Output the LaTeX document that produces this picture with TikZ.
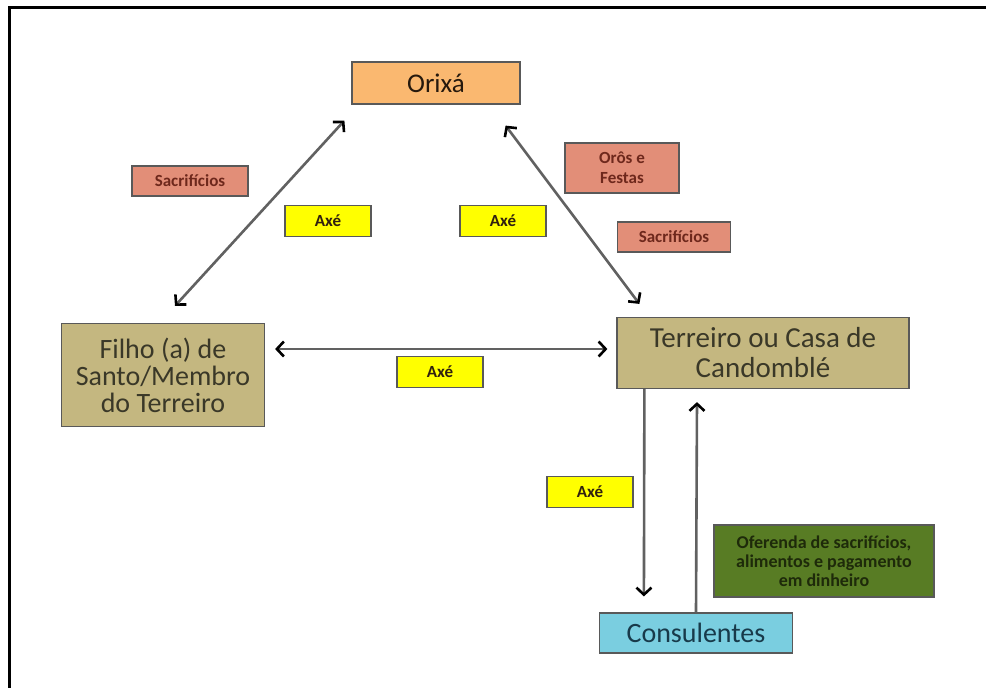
\documentclass[tikz,border=0pt]{standalone}
\usepackage{fontspec}
\setmainfont{Carlito}
\usetikzlibrary{arrows.meta}

\definecolor{orixafill}{RGB}{250,184,112}
\definecolor{sacrfill}{RGB}{226,142,120}
\definecolor{sacrtext}{RGB}{110,40,28}
\definecolor{axefill}{RGB}{255,255,0}
\definecolor{tanfill}{RGB}{196,183,128}
\definecolor{tantext}{RGB}{58,56,40}
\definecolor{greenfill}{RGB}{88,124,36}
\definecolor{greentext}{RGB}{30,42,10}
\definecolor{bluefill}{RGB}{122,206,224}
\definecolor{bluetext}{RGB}{24,58,74}

\begin{document}
\begin{tikzpicture}[x=1pt,y=-1pt,
      mybox/.style={
         draw=black!65,
         line width=1.2pt,
         inner sep=0pt,
         align=center},
      orixabox/.style={mybox, fill=orixafill, text=black!80!brown, font=\fontsize{27}{30}\selectfont},
      sacrbox/.style={mybox, fill=sacrfill, text=sacrtext, font=\bfseries\fontsize{17}{20}\selectfont},
      axebox/.style={mybox, fill=axefill, text=black!75!brown, minimum width=86pt, minimum height=31pt, font=\bfseries\fontsize{17}{20}\selectfont},
      mainbox/.style={mybox, fill=tanfill, text=tantext},
      myarrow/.style={>={Straight Barb[length=7pt,width=15pt,color=black]}, draw=black!62, line width=2.6pt}
      ]
      \useasboundingbox (0,0) rectangle (986,688);
      % frame
      \draw[line width=3pt] (986,7) -- (9,7) -- (9,688);

      \node[orixabox, minimum width=168pt, minimum height=42pt] (orixa) at (436,83) {Orixá};
      \node[sacrbox, minimum width=116pt, minimum height=30pt] (sacr1) at (190,181) {Sacrifícios};
      \node[axebox] (axe1) at (328,221) {Axé};
      \node[axebox] (axe2) at (503,221) {Axé};
      \node[sacrbox, minimum width=114pt, minimum height=50pt] (oros) at (622,168) {Orôs e\\Festas};
      \node[sacrbox, minimum width=113pt, minimum height=30pt] (sacr2) at (674,237) {Sacrifícios};

      \node[mainbox, minimum width=203pt, minimum height=103pt, font=\fontsize{28}{27}\selectfont] (filho) at (163,375)
            {Filho (a) de\\Santo/Membro\\do Terreiro};
      \node[mainbox, minimum width=292pt, minimum height=71pt, font=\fontsize{29}{30}\selectfont] (terreiro) at (763,353)
            {Terreiro ou Casa de\\Candomblé};
      \node[axebox] (axe3) at (440,372) {Axé};
      \node[axebox] (axe4) at (590,492) {Axé};

      \node[mybox, fill=greenfill, text=greentext, minimum width=220pt, minimum height=72pt,
            font=\bfseries\fontsize{18}{19}\selectfont] (oferenda) at (824,561)
            {Oferenda de sacrifícios,\\alimentos e pagamento\\em dinheiro};
      \node[mybox, fill=bluefill, text=bluetext, minimum width=193pt, minimum height=40pt,
            font=\fontsize{28}{30}\selectfont] (consul) at (696,633) {Consulentes};

      % arrows
      \draw[myarrow,<->] ([xshift=-7pt,yshift=-16pt]orixa.south west) -- ([xshift=12pt,yshift=17pt]filho.north);
      \draw[myarrow,<->] ([xshift=-15pt,yshift=-21pt]orixa.south east) -- ([xshift=23pt,yshift=13pt]terreiro.north west);
      \draw[myarrow,<->] ([xshift=10pt,yshift=26pt]filho.east) -- ([xshift=-9pt,yshift=4pt]terreiro.west);
      \draw[myarrow,->] ([xshift=28pt]terreiro.south west) -- ([xshift=45pt,yshift=16pt]consul.north west);
      \draw[myarrow,->] (consul.north) -- ([xshift=-66pt,yshift=-13pt]terreiro.south);
\end{tikzpicture}
\end{document}
